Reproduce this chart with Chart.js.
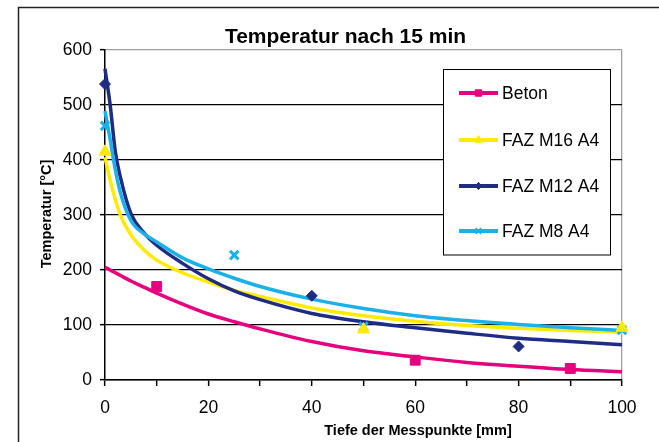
<!DOCTYPE html>
<html>
<head>
<meta charset="utf-8">
<script src="https://cdn.jsdelivr.net/npm/chart.js@4/dist/chart.umd.min.js"></script>
<style>
html,body{margin:0;padding:0;background:#fff;}
canvas{display:block;}
</style>
</head>
<body>
<canvas id="c" width="659" height="442" style="width:659px;height:442px"></canvas>
<script>
// ---- Texts ----
const chartTitle = 'Temperatur nach 15 min';
const xTitle = 'Tiefe der Messpunkte [mm]';
const yTitle = 'Temperatur [°C]';
const seriesNames = ['Beton', 'FAZ M16 A4', 'FAZ M12 A4', 'FAZ M8 A4'];

// ---- Measured points (markers) ----
const betonX = [10, 60, 90];
const betonY = [170, 36, 21];
const m16X = [0, 50, 100];
const m16Y = [415, 92, 95];
const m12X = [0, 40, 80];
const m12Y = [538, 153, 61];
const m8X = [0, 25, 50, 100];
const m8Y = [462, 227, 97, 91];

// ---- Trend curves ----
const trendX =      [0,   1,   2,   3,   5,   7.5, 10,  15,  20,  25,  30,  40,  50,  60,  70,  80,  90,  100];
const betonTrend =  [205, 200, 195, 190, 180, 169, 158, 138, 120, 106, 93,  70,  53,  42,  32,  25,  19,  15];
const m16Trend =    [405, 363, 328, 299, 264, 237, 218, 195, 178, 163, 152, 131, 117, 107, 99,  94,  90,  87];
const m12Trend =    [566, 500, 415, 368, 303, 268, 245, 212, 184, 162, 146, 121, 106, 95,  85,  76,  70,  64];
const m8Trend =     [489, 437, 382, 340, 290, 266, 251, 222, 202, 185, 170, 147, 130, 117, 108, 101, 95,  90];

// ---- Axis ticks ----
const xMin = 0, xMax = 100, xStep = 10, xLabelEvery = 20;
const yMin = 0, yMax = 600, yStep = 100;

const colors = {
  'Beton': '#E6007E',
  'FAZ M16 A4': '#FFEB00',
  'FAZ M12 A4': '#1E2C84',
  'FAZ M8 A4': '#1AB1E8'
};
const markerStyle = {
  'Beton': {pointStyle: 'rect', radius: 7, borderWidth: 1},
  'FAZ M16 A4': {pointStyle: 'triangle', radius: 7, borderWidth: 1},
  'FAZ M12 A4': {pointStyle: 'rectRot', radius: 5.5, borderWidth: 1},
  'FAZ M8 A4': {pointStyle: 'crossRot', radius: 6, borderWidth: 3}
};

const FONT = "'Liberation Sans', Arial, sans-serif";

function pts(xs, ys) { return xs.map((x, i) => ({x: x, y: ys[i]})); }

function markerDs(name, xs, ys) {
  const m = markerStyle[name];
  return {
    label: name, isMarker: true,
    data: pts(xs, ys), showLine: false, clip: false,
    pointStyle: m.pointStyle, pointRadius: m.radius,
    pointBorderWidth: m.borderWidth,
    backgroundColor: colors[name], borderColor: colors[name]
  };
}
function trendDs(name, xs, ys) {
  return {
    label: name + ' trend', isMarker: false,
    data: pts(xs, ys), showLine: true, clip: 3,
    pointRadius: 0, borderWidth: 3.5,
    borderColor: colors[name], backgroundColor: colors[name],
    cubicInterpolationMode: 'monotone', fill: false
  };
}

const datasets = [
  markerDs('FAZ M16 A4', m16X, m16Y),
  markerDs('FAZ M12 A4', m12X, m12Y),
  markerDs('Beton', betonX, betonY),
  markerDs('FAZ M8 A4', m8X, m8Y),
  trendDs('FAZ M8 A4', trendX, m8Trend),
  trendDs('FAZ M12 A4', trendX, m12Trend),
  trendDs('FAZ M16 A4', trendX, m16Trend),
  trendDs('Beton', trendX, betonTrend)
];

const framePlugin = {
  id: 'frame',
  beforeDraw(chart) {
    const ctx = chart.ctx;
    ctx.save();
    ctx.fillStyle = '#fff';
    ctx.fillRect(0, 0, chart.width, chart.height);
    ctx.strokeStyle = '#222';
    ctx.lineWidth = 1.5;
    ctx.beginPath();
    ctx.moveTo(18.5, chart.height + 2);
    ctx.lineTo(18.5, 7.5);
    ctx.lineTo(chart.width + 2, 7.5);
    ctx.stroke();
    ctx.restore();
  }
};

const textPlugin = {
  id: 'texts',
  afterDraw(chart) {
    const ctx = chart.ctx;
    ctx.save();
    ctx.fillStyle = '#000';
    // Title
    ctx.font = 'bold 21px ' + FONT;
    ctx.textAlign = 'center';
    ctx.textBaseline = 'alphabetic';
    ctx.fillText(chartTitle, 345.5, 43);
    // X title
    ctx.font = 'bold 14.5px ' + FONT;
    ctx.fillText(xTitle, 418, 435);
    // Y title
    ctx.save();
    ctx.translate(51, 214);
    ctx.rotate(-Math.PI / 2);
    ctx.fillText(yTitle, 0, 0);
    ctx.restore();

    // Legend
    const bx = 443.5, by = 69.5, bw = 167, bh = 185.5;
    ctx.fillStyle = '#fff';
    ctx.fillRect(bx, by, bw, bh);
    ctx.strokeStyle = '#000';
    ctx.lineWidth = 1;
    ctx.strokeRect(bx, by, bw, bh);
    const rowY = [93, 140, 186, 231];
    seriesNames.forEach((name, i) => {
      const y = rowY[i];
      const col = colors[name];
      ctx.strokeStyle = col;
      ctx.fillStyle = col;
      ctx.lineWidth = 4;
      ctx.beginPath();
      ctx.moveTo(459, y);
      ctx.lineTo(498, y);
      ctx.stroke();
      const m = markerStyle[name];
      ctx.lineWidth = m.pointStyle === 'crossRot' ? 2 : 1;
      Chart.helpers.drawPoint(ctx, {pointStyle: m.pointStyle, radius: m.radius * 0.65, rotation: 0, borderWidth: ctx.lineWidth}, 478.5, y);
      ctx.fillStyle = '#000';
      ctx.font = '17.5px ' + FONT;
      ctx.textAlign = 'left';
      ctx.textBaseline = 'middle';
      ctx.fillText(name, 502, y + 1);
    });
    ctx.restore();
  }
};

new Chart(document.getElementById('c'), {
  type: 'scatter',
  data: { datasets: datasets },
  options: {
    responsive: false,
    devicePixelRatio: 1,
    animation: false,
    layout: { padding: { left: 0, right: 37, top: 50, bottom: 0 } },
    plugins: { legend: { display: false }, tooltip: { enabled: false }, title: { display: false } },
    scales: {
      x: {
        type: 'linear', min: xMin, max: xMax,
        afterFit(s) { s.height = 62; },
        ticks: {
          stepSize: xStep, autoSkip: false, maxRotation: 0, padding: 12,
          color: '#000', font: { family: FONT, size: 17.5 },
          callback: v => (v % xLabelEvery === 0 ? String(v) : '')
        },
        grid: {
          drawOnChartArea: true, drawTicks: true, tickLength: 6,
          color: c => (c.tick && c.tick.value === xMax ? '#a0a0a0' : 'rgba(0,0,0,0)'),
          tickColor: '#000', lineWidth: 1.3, tickWidth: 1.5
        },
        border: { display: true, color: '#000', width: 1.5 }
      },
      y: {
        type: 'linear', min: yMin, max: yMax,
        afterFit(s) { s.width = 105; },
        ticks: {
          stepSize: yStep, padding: 8,
          color: '#000', font: { family: FONT, size: 17.5 }
        },
        grid: {
          drawOnChartArea: true, drawTicks: true, tickLength: 5,
          color: c => (c.tick && c.tick.value === yMax ? '#a0a0a0' : '#000'),
          tickColor: '#000', lineWidth: 1.3, tickWidth: 1.5
        },
        border: { display: true, color: '#000', width: 1.5 }
      }
    }
  },
  plugins: [framePlugin, textPlugin]
});
</script>
</body>
</html>
